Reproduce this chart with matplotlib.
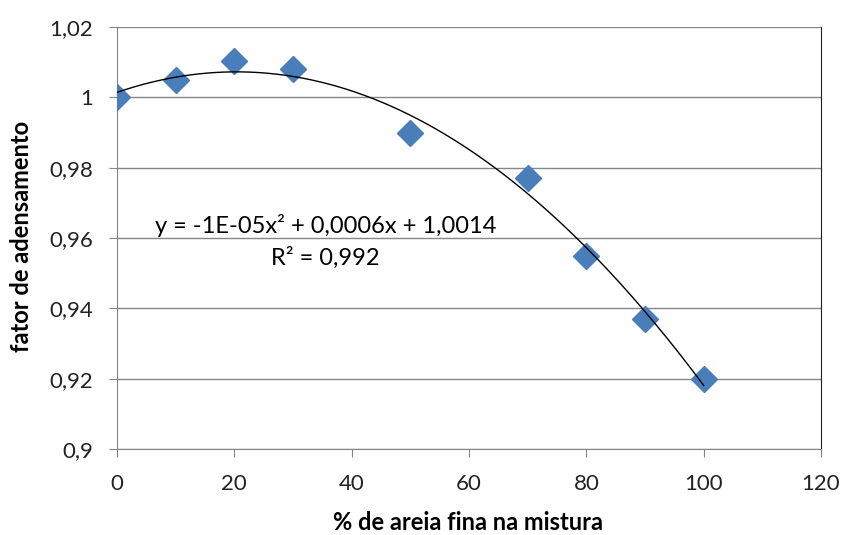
import numpy as np
import matplotlib
matplotlib.use("Agg")
import matplotlib.pyplot as plt

x_vals = [0, 10, 20, 30, 50, 70, 80, 90, 100]
y_vals = [1.000, 1.005, 1.0103, 1.008, 0.990, 0.977, 0.955, 0.937, 0.920]
x_ticks = [0, 20, 40, 60, 80, 100, 120]
y_ticks = [0.90, 0.92, 0.94, 0.96, 0.98, 1.00, 1.02]
y_tick_labels = ["0,9", "0,92", "0,94", "0,96", "0,98", "1", "1,02"]
eq_text = "y = -1E-05x² + 0,0006x + 1,0014"
r2_text = "R² = 0,992"

plt.rcParams['font.family'] = ['Lato', 'DejaVu Sans']
fig = plt.figure(figsize=(8.43, 5.35), dpi=100)
ax = fig.add_axes([0.1388, 0.1607, 0.8351, 0.7888])

coef = np.polyfit(x_vals, y_vals, 2)
xs = np.linspace(min(x_vals), max(x_vals), 200)
ax.plot(x_vals, y_vals, linestyle='none', marker='D', markersize=13,
        color='#4A7EBB', markeredgecolor='#4A7EBB', zorder=3)
ax.plot(xs, np.polyval(coef, xs), color='black', lw=1.0, zorder=4)

ax.set_xlim(0, 120)
ax.set_ylim(0.9, 1.02)
ax.set_xticks(x_ticks)
ax.set_yticks(y_ticks)
ax.set_yticklabels(y_tick_labels)
ax.tick_params(axis='both', labelsize=16, direction='out', length=6,
               color='#868686', labelcolor='#222222')
ax.tick_params(axis='y', pad=11)
ax.tick_params(axis='x', pad=12)
ax.grid(axis='y', color='#868686', lw=1.0)
ax.set_axisbelow(True)
for s in ['left', 'bottom']:
    ax.spines[s].set_color('#868686')
ax.spines['top'].set_visible(False)
ax.spines['right'].set_color('#222222')

fig.text(468 / 843, 1 - 523 / 535, '% de areia fina na mistura', fontsize=17,
         fontweight='bold', ha='center', va='center')
fig.text(22 / 843, 1 - 236 / 535, 'fator de adensamento', fontsize=17,
         fontweight='bold', ha='center', va='center', rotation=90)

ax.text(35.5, 0.9637, eq_text, ha='center', va='center', fontsize=17)
ax.text(35.5, 0.9543, r2_text, ha='center', va='center', fontsize=17)

fig.savefig('out.png', dpi=100)
